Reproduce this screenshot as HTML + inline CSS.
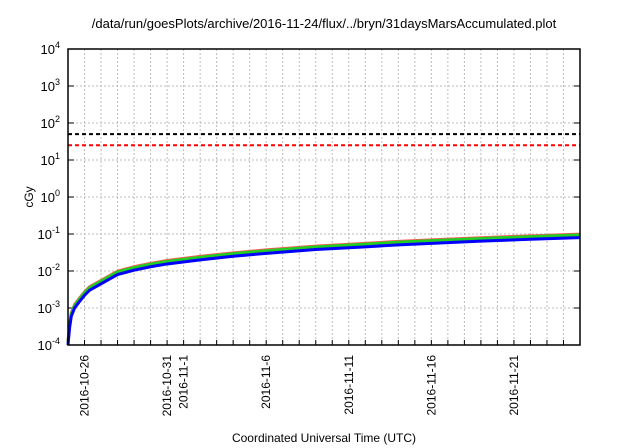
<!DOCTYPE html>
<html><head><meta charset="utf-8"><style>
body{margin:0;background:#fff}
svg{display:block;font-family:"Liberation Sans",sans-serif}
</style></head><body>
<svg id="chart" width="640" height="448">
<text x="324" y="28" font-size="13" text-anchor="middle">/data/run/goesPlots/archive/2016-11-24/flux/../bryn/31daysMarsAccumulated.plot</text>
<text transform="translate(33,197) rotate(-90)" font-size="12" text-anchor="middle">cGy</text>
<text x="324" y="442" font-size="12" text-anchor="middle">Coordinated Universal Time (UTC)</text>
<g id="grid"></g><g id="axes"></g><g id="series"></g>
<rect x="68" y="49" width="512" height="296" fill="none" stroke="#000" stroke-width="1.5"/>
</svg>
<script>
const yDecades=[-4,-3,-2,-1,0,1,2,3,4];
const xTickDays=[1,6,7,12,17,22,27];
const xTickLabels=["2016-10-26","2016-10-31","2016-11-1","2016-11-6","2016-11-11","2016-11-16","2016-11-21"];
const thresholdValues=[50,25];
const thresholdColors=["#000","#f00"];
const days=[0,0.1,0.2,0.4,0.7,1,1.3,2,3,4,5,6,8,10,12,15,18,20,22,25,28,31];
const blueVals=[1e-4,3e-4,6e-4,1e-3,1.5e-3,2.2e-3,3e-3,4.5e-3,8e-3,1.05e-2,1.3e-2,1.55e-2,2e-2,2.5e-2,3e-2,3.8e-2,4.5e-2,5.1e-2,5.6e-2,6.4e-2,7.2e-2,8e-2];
const greenVals=blueVals.map(v=>v*1.18);
const redVals=blueVals.map(v=>v*1.24);
const L=68,R=580,T=49,B=345,D0=0,D1=31;
const xs=d=>L+(d-D0)/(D1-D0)*(R-L);
const ys=v=>B-(Math.log10(v)+4)/8*(B-T);
const NS="http://www.w3.org/2000/svg";
function mk(tag,attrs,parent){const e=document.createElementNS(NS,tag);for(const k in attrs)e.setAttribute(k,attrs[k]);parent.appendChild(e);return e;}
const grid=document.getElementById('grid'),axes=document.getElementById('axes'),series=document.getElementById('series');
for(let d=1;d<31;d++){const l=mk('line',{x1:xs(d),x2:xs(d),y1:T,y2:B,stroke:'#bbb','stroke-dasharray':'2,2'},grid);


const t=mk('line',{x1:xs(d),x2:xs(d),y1:B,y2:B-5,stroke:'#000'},axes);

}
yDecades.forEach(e=>{const y=ys(Math.pow(10,e));
if(e>-4&&e<4){const g=mk('line',{x1:L,x2:R,y1:y,y2:y,stroke:'#bbb','stroke-dasharray':'2,2'},grid);

}
const t1=mk('line',{x1:L,x2:L+6,y1:y,y2:y,stroke:'#000'},axes);


const t2=mk('line',{x1:R,x2:R-6,y1:y,y2:y,stroke:'#000'},axes);


const tx=mk('text',{x:L-8,y:y+5,'font-size':13,'text-anchor':'end'},axes);


tx.textContent='10';const s=mk('tspan',{dy:-6,'font-size':9},tx);s.textContent=String(e);});
xTickDays.forEach((d,i)=>{const x=xs(d);const t=mk('text',{transform:`translate(${x+4},${B+10}) rotate(-90)`,'font-size':12,'text-anchor':'end'},axes);


t.textContent=xTickLabels[i];});
thresholdValues.forEach((v,i)=>{const l=mk('line',{x1:L,x2:R,y1:ys(v),y2:ys(v),stroke:thresholdColors[i],'stroke-width':2,'stroke-dasharray':'4,3'},series);

});
[[redVals,'#f55'],[greenVals,'#2c2'],[blueVals,'#00f']].forEach(([vals,c])=>{
const p=mk('polyline',{points:days.map((d,i)=>xs(d)+','+ys(vals[i])).join(' '),fill:'none',stroke:c,'stroke-width':3},series);

});
</script>
</body></html>
